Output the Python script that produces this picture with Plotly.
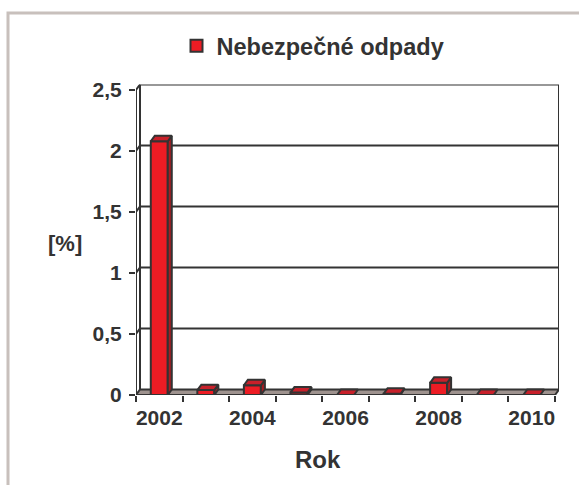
import plotly.graph_objects as go

years = [2002, 2003, 2004, 2005, 2006, 2007, 2008, 2009, 2010]
values = [2.08, 0.04, 0.08, 0.02, 0.0, 0.01, 0.10, 0.0, 0.0]
series_name = "Nebezpečné odpady"
x_label_years = [2002, 2004, 2006, 2008, 2010]
y_ticks = [0, 0.5, 1, 1.5, 2, 2.5]
y_tick_text = ["0", "0,5", "1", "1,5", "2", "2,5"]

W, H = 579, 485
FONT = "Liberation Sans"
TXT = "#333333"
LINE = "#333333"
RED = "#ED1C24"
RED_TOP = "#C8202A"
RED_SIDE = "#A81C22"
FLOOR = "#9E928E"

# 3D depth offsets (data units)
dx = 0.086
dy = 0.045
bw = 0.365
x0, x1 = years[0] - 0.5, years[-1] + 0.5
ymax = 2.5

# pixel geometry of the plot area
left_px, right_px = 136, 559
bottom_px, top_px = 395, 84.5

fig = go.Figure()

# front faces
fig.add_trace(go.Bar(
    x=years, y=values, width=bw, name=series_name,
    marker=dict(color=RED, line=dict(color=LINE, width=2)),
    showlegend=True,
))

# top and side faces computed from the data
tx, ty, sx, sy = [], [], [], []
for xv, v in zip(years, values):
    a, b = xv - bw / 2, xv + bw / 2
    tx += [a, b, b + dx, a + dx, a, None]
    ty += [v, v, v + dy, v + dy, v, None]
    if v > 0:
        sx += [b, b + dx, b + dx, b, b, None]
        sy += [0, dy, v + dy, v, 0, None]

fig.add_trace(go.Scatter(
    x=sx, y=sy, mode="lines", fill="toself", fillcolor=RED_SIDE,
    line=dict(color=LINE, width=2), showlegend=False, hoverinfo="skip"))
fig.add_trace(go.Scatter(
    x=tx, y=ty, mode="lines", fill="toself", fillcolor=RED_TOP,
    line=dict(color=LINE, width=2), showlegend=False, hoverinfo="skip"))

shapes = []
# outer frame
shapes.append(dict(type="rect", xref="paper", yref="paper",
                   x0=8 / W, x1=1.2, y0=-0.2, y1=1 - 13 / H,
                   line=dict(color="#C8C0BC", width=3), layer="below"))
# gridlines along side wall and back wall
for t in y_ticks[1:-1]:
    shapes.append(dict(type="path", xref="x", yref="y",
                       path=f"M {x0},{t} L {x0 + dx},{t + dy} L {x1 + dx},{t + dy}",
                       line=dict(color=LINE, width=2), layer="between"))
# back wall outline
shapes.append(dict(type="path", xref="x", yref="y",
                   path=f"M {x0 + dx},{dy} L {x0 + dx},{ymax + dy} L {x1 + dx},{ymax + dy} L {x1 + dx},{dy}",
                   line=dict(color=LINE, width=2), layer="between"))
# floor
shapes.append(dict(type="path", xref="x", yref="y",
                   path=f"M {x0},0 L {x1},0 L {x1 + dx},{dy} L {x0 + dx},{dy} Z",
                   fillcolor=FLOOR, line=dict(color=LINE, width=2), layer="between"))
# front axis lines + side wall top
shapes.append(dict(type="path", xref="x", yref="y",
                   path=f"M {x0 + dx},{ymax + dy} L {x0},{ymax} L {x0},0 L {x1},0",
                   line=dict(color=LINE, width=2), layer="above"))

fig.update_layout(
    width=W, height=H, autosize=False,
    margin=dict(l=0, r=0, t=0, b=0, pad=0),
    paper_bgcolor="white", plot_bgcolor="rgba(0,0,0,0)",
    font=dict(family=FONT, color=TXT, size=21, weight="bold"),
    shapes=shapes,
    showlegend=True,
    legend=dict(x=313 / W, xanchor="center", y=1 - 46 / H, yanchor="middle",
                orientation="h", font=dict(size=23.5, family=FONT, color=TXT, weight="bold"),
                bgcolor="rgba(0,0,0,0)", itemwidth=30),
    xaxis=dict(
        domain=[left_px / W, right_px / W], automargin=False,
        range=[x0, x1 + dx], showgrid=False, zeroline=False, showline=False,
        tickmode="array", tickvals=x_label_years, ticktext=[str(y) for y in x_label_years],
        ticks="", ticklabelstandoff=8,
        tickfont=dict(size=21, family=FONT, color=TXT, weight="bold"),
        minor=dict(tickmode="array", tickvals=[y - 0.5 for y in years] + [x1],
                   ticks="outside", ticklen=6, tickwidth=2, tickcolor=LINE, showgrid=False),
        fixedrange=True,
    ),
    yaxis=dict(
        domain=[1 - bottom_px / H, 1 - top_px / H], automargin=False,
        range=[0, ymax + dy], showgrid=False, zeroline=False, showline=False,
        tickmode="array", tickvals=y_ticks, ticktext=y_tick_text,
        ticks="outside", ticklen=6, tickwidth=2, tickcolor=LINE, ticklabelstandoff=3,
        tickfont=dict(size=21, family=FONT, color=TXT, weight="bold"),
        fixedrange=True,
    ),
    annotations=[
        dict(text="[%]", xref="paper", yref="paper", x=65 / W, y=1 - 243 / H,
             xanchor="center", yanchor="middle",
             showarrow=False, font=dict(size=22, family=FONT, color=TXT, weight="bold")),
        dict(text="Rok", xref="paper", yref="paper", x=318 / W, y=1 - 459 / H,
             xanchor="center", yanchor="middle",
             showarrow=False, font=dict(size=24, family=FONT, color=TXT, weight="bold")),
    ],
)

fig.write_html("out.html", config={"displayModeBar": False},
               post_script="document.body.style.margin='0px';document.body.style.overflow='hidden';")
